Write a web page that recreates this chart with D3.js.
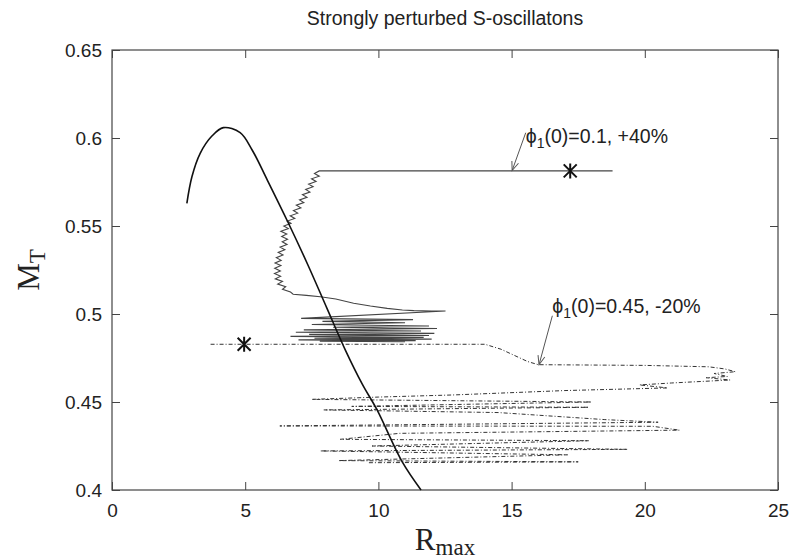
<!DOCTYPE html>
<html>
<head>
<meta charset="utf-8">
<script src="https://cdn.jsdelivr.net/npm/d3@7"></script>
<style>
  body { margin: 0; background: #fff; }
</style>
</head>
<body>
<svg width="799" height="560"></svg>
<script>
const title = "Strongly perturbed S-oscillatons";
const xTicks = [0, 5, 10, 15, 20, 25];
const yTicks = [0.4, 0.45, 0.5, 0.55, 0.6, 0.65];

// equilibrium curve (solid black)
const eqR = [2.81, 3.00, 3.31, 3.75, 4.18, 4.81, 5.26, 5.83, 6.62, 7.35, 8.07, 8.76, 9.40, 9.95, 10.89, 11.6];
const eqM = [0.5629, 0.5780, 0.5913, 0.6011, 0.6059, 0.6030, 0.5932, 0.5761, 0.5517, 0.5280, 0.5032, 0.4795, 0.4600, 0.4455, 0.4161, 0.400];

// phi1(0)=0.1, +40%
const p40R = [18.79, 7.78,
  7.60, 7.78, 7.49, 7.66, 7.38, 7.55, 7.27, 7.43, 7.15, 7.32, 7.04, 7.20, 6.92, 7.09, 6.81, 6.97, 6.69, 6.86, 6.58, 6.72,
  6.45, 6.62, 6.34, 6.56, 6.37, 6.59, 6.39, 6.57, 6.31, 6.49, 6.24, 6.42, 6.17, 6.35, 6.12, 6.34, 6.11, 6.32, 6.10, 6.33, 6.13, 6.40, 6.22, 6.52, 6.40, 6.70, 6.80,
  7.30, 7.82, 8.40, 9.07, 9.70, 10.33, 10.90, 11.33, 12.00, 12.52,
  7.1, 11.3, 7.9, 11.0, 7.5, 11.9, 8.3, 12.2, 7.2, 11.6, 6.9, 12.1, 7.4, 11.9, 6.7, 11.7, 7.6, 12.0, 7.0, 11.4, 7.8, 11.0];
const p40M = [0.5813, 0.5813,
  0.5798, 0.5783, 0.5768, 0.5753, 0.5738, 0.5723, 0.5708, 0.5693, 0.5678, 0.5663, 0.5648, 0.5633, 0.5618, 0.5603, 0.5588, 0.5573, 0.5558, 0.5543, 0.5528, 0.5515,
  0.5500, 0.5485, 0.5470, 0.5455, 0.5440, 0.5425, 0.5410, 0.5395, 0.5380, 0.5365, 0.5350, 0.5335, 0.5320, 0.5305, 0.5290, 0.5275, 0.5260, 0.5245, 0.5230, 0.5215, 0.5200, 0.5185, 0.5170, 0.5155, 0.5140, 0.5125, 0.5112,
  0.5106, 0.5098, 0.5085, 0.5061, 0.5045, 0.5032, 0.5023, 0.5019, 0.5017, 0.5017,
  0.4975, 0.4968, 0.4958, 0.4950, 0.4940, 0.4932, 0.4925, 0.4918, 0.4910, 0.4903, 0.4896, 0.4890, 0.4884, 0.4878, 0.4873, 0.4867, 0.4862, 0.4857, 0.4853, 0.4849, 0.4846, 0.4843];

// phi1(0)=0.45, -20%
const m20R = [3.7, 14.0, 14.6, 15.1, 15.6, 16.0, 20.0, 22.4, 23.0, 23.4, 22.6, 23.1, 22.3, 23.2, 21.0, 19.8, 20.85, 17.0, 12.8, 10.0, 7.5,
  18.0, 9.0, 17.9, 7.95, 14.5, 18.5, 20.5, 6.3, 20.3, 21.3, 10.8, 8.57, 17.9, 9.76, 19.35, 7.82, 17.1, 8.5, 17.5, 9.6];
const m20M = [0.4828, 0.4828, 0.4800, 0.4765, 0.4730, 0.4712, 0.4708, 0.4700, 0.4688, 0.4672, 0.4662, 0.4645, 0.4638, 0.4625, 0.4608, 0.4597, 0.4580, 0.4565, 0.4540, 0.4528, 0.4515,
  0.4500, 0.4475, 0.4470, 0.4455, 0.4440, 0.4400, 0.4385, 0.4364, 0.4362, 0.4340, 0.4322, 0.4288, 0.4280, 0.4250, 0.4231, 0.4222, 0.4200, 0.4167, 0.4160, 0.4155];

const starR = [17.2, 4.96];
const starM = [0.5813, 0.4828];

const labelText = ["(0)=0.1, +40%", "(0)=0.45, -20%"];
const labelR = [15.53, 16.53];
const labelM = [0.5970, 0.5005];
const arrowFromR = [15.53, 16.53];
const arrowFromM = [0.6030, 0.4990];
const arrowToR = [15.02, 16.03];
const arrowToM = [0.5815, 0.4712];

const margin = { top: 50, right: 21, bottom: 70, left: 112 };
const width = 799, height = 560;
const sans = "'Liberation Sans', Arial, sans-serif";
const serif = "'Liberation Serif', 'Times New Roman', serif";

const x = d3.scaleLinear().domain([0, 25]).range([margin.left, width - margin.right]);
const y = d3.scaleLinear().domain([0.4, 0.65]).range([height - margin.bottom, margin.top]);

const svg = d3.select("svg");

svg.append("defs").append("marker")
    .attr("id", "arr")
    .attr("viewBox", "-10 -5 12 10")
    .attr("refX", 0).attr("refY", 0)
    .attr("markerWidth", 12).attr("markerHeight", 10)
    .attr("markerUnits", "userSpaceOnUse")
    .attr("orient", "auto")
    .append("path")
    .attr("d", "M-9,-3.5L0,0L-9,3.5")
    .attr("fill", "none")
    .attr("stroke", "#555")
    .attr("stroke-width", 1);

const line = d3.line().x(d => x(d[0])).y(d => y(d[1]));

// frame with inward ticks on all sides
const axisColor = "#444";
svg.append("rect")
    .attr("x", x(0)).attr("y", y(0.65))
    .attr("width", x(25) - x(0)).attr("height", y(0.4) - y(0.65))
    .attr("fill", "none").attr("stroke", axisColor).attr("stroke-width", 1.2);

svg.append("g")
    .attr("transform", `translate(0,${y(0.4)})`)
    .call(d3.axisBottom(x).tickValues(xTicks).tickSizeInner(-8).tickSizeOuter(0).tickPadding(14).tickFormat(d3.format("d")))
    .call(g => g.select(".domain").remove())
    .call(g => g.selectAll("line").attr("stroke", axisColor))
    .call(g => g.selectAll("text").style("font-size", "19px").style("font-family", sans).attr("fill", "#222"));

svg.append("g")
    .attr("transform", `translate(0,${y(0.65)})`)
    .call(d3.axisTop(x).tickValues(xTicks).tickSizeInner(-8).tickSizeOuter(0).tickFormat(""))
    .call(g => g.select(".domain").remove())
    .call(g => g.selectAll("line").attr("stroke", axisColor));

svg.append("g")
    .attr("transform", `translate(${x(0)},0)`)
    .call(d3.axisLeft(y).tickValues(yTicks).tickSizeInner(-8).tickSizeOuter(0).tickPadding(10).tickFormat(d => String(d)))
    .call(g => g.select(".domain").remove())
    .call(g => g.selectAll("line").attr("stroke", axisColor))
    .call(g => g.selectAll("text").style("font-size", "19px").style("font-family", sans).attr("fill", "#222"));

svg.append("g")
    .attr("transform", `translate(${x(25)},0)`)
    .call(d3.axisRight(y).tickValues(yTicks).tickSizeInner(-8).tickSizeOuter(0).tickFormat(""))
    .call(g => g.select(".domain").remove())
    .call(g => g.selectAll("line").attr("stroke", axisColor));

// -20% run (dashed grey)
svg.append("path")
    .datum(m20R.map((r, i) => [r, m20M[i]]))
    .attr("d", line)
    .attr("fill", "none")
    .attr("stroke", "#333")
    .attr("stroke-width", 1)
    .attr("stroke-dasharray", "4,2,1,2");

// +40% run (thin grey)
svg.append("path")
    .datum(p40R.map((r, i) => [r, p40M[i]]))
    .attr("d", line)
    .attr("fill", "none")
    .attr("stroke", "#444")
    .attr("stroke-width", 1.1);

// equilibrium curve
svg.append("path")
    .datum(eqR.map((r, i) => [r, eqM[i]]))
    .attr("d", line.curve(d3.curveCatmullRom.alpha(0.5)))
    .attr("fill", "none")
    .attr("stroke", "#111")
    .attr("stroke-width", 1.6);

// initial configurations
svg.append("g").selectAll("path")
    .data(starR.map((r, i) => [r, starM[i]]))
    .join("path")
    .attr("transform", d => `translate(${x(d[0])},${y(d[1])})`)
    .attr("d", "M-6.5,-6.5L6.5,6.5M-6.5,6.5L6.5,-6.5M0,-7.5L0,7.5")
    .attr("stroke", "#111")
    .attr("stroke-width", 2);

// annotation arrows
svg.append("g").selectAll("line")
    .data(arrowFromR.map((r, i) => i))
    .join("line")
    .attr("x1", i => x(arrowFromR[i])).attr("y1", i => y(arrowFromM[i]))
    .attr("x2", i => x(arrowToR[i])).attr("y2", i => y(arrowToM[i]))
    .attr("stroke", "#555").attr("stroke-width", 1)
    .attr("marker-end", "url(#arr)");

const labels = svg.append("g").selectAll("text")
    .data(labelText)
    .join("text")
    .attr("x", (d, i) => x(labelR[i]))
    .attr("y", (d, i) => y(labelM[i]))
    .style("font-family", sans)
    .style("font-size", "19.5px")
    .attr("fill", "#222");
labels.append("tspan").text("ϕ");
labels.append("tspan").attr("dy", 5).style("font-size", "14px").text("1");
labels.append("tspan").attr("dy", -5).text(d => d);

// title
svg.append("text")
    .attr("x", (x(0) + x(25)) / 2)
    .attr("y", 25)
    .attr("text-anchor", "middle")
    .style("font-family", sans)
    .style("font-size", "19.5px")
    .attr("fill", "#222")
    .text(title);

// axis titles
const xl = svg.append("text")
    .attr("x", (x(0) + x(25)) / 2)
    .attr("y", 550)
    .attr("text-anchor", "middle")
    .style("font-family", serif)
    .style("font-size", "31px")
    .attr("fill", "#222");
xl.append("tspan").text("R");
xl.append("tspan").attr("dy", 5).style("font-size", "23px").text("max");

const yl = svg.append("text")
    .attr("transform", `translate(39,${(y(0.4) + y(0.65)) / 2}) rotate(-90)`)
    .attr("text-anchor", "middle")
    .style("font-family", serif)
    .style("font-size", "31px")
    .attr("fill", "#222");
yl.append("tspan").text("M");
yl.append("tspan").attr("dy", 6).style("font-size", "23px").text("T");
</script>
</body>
</html>
